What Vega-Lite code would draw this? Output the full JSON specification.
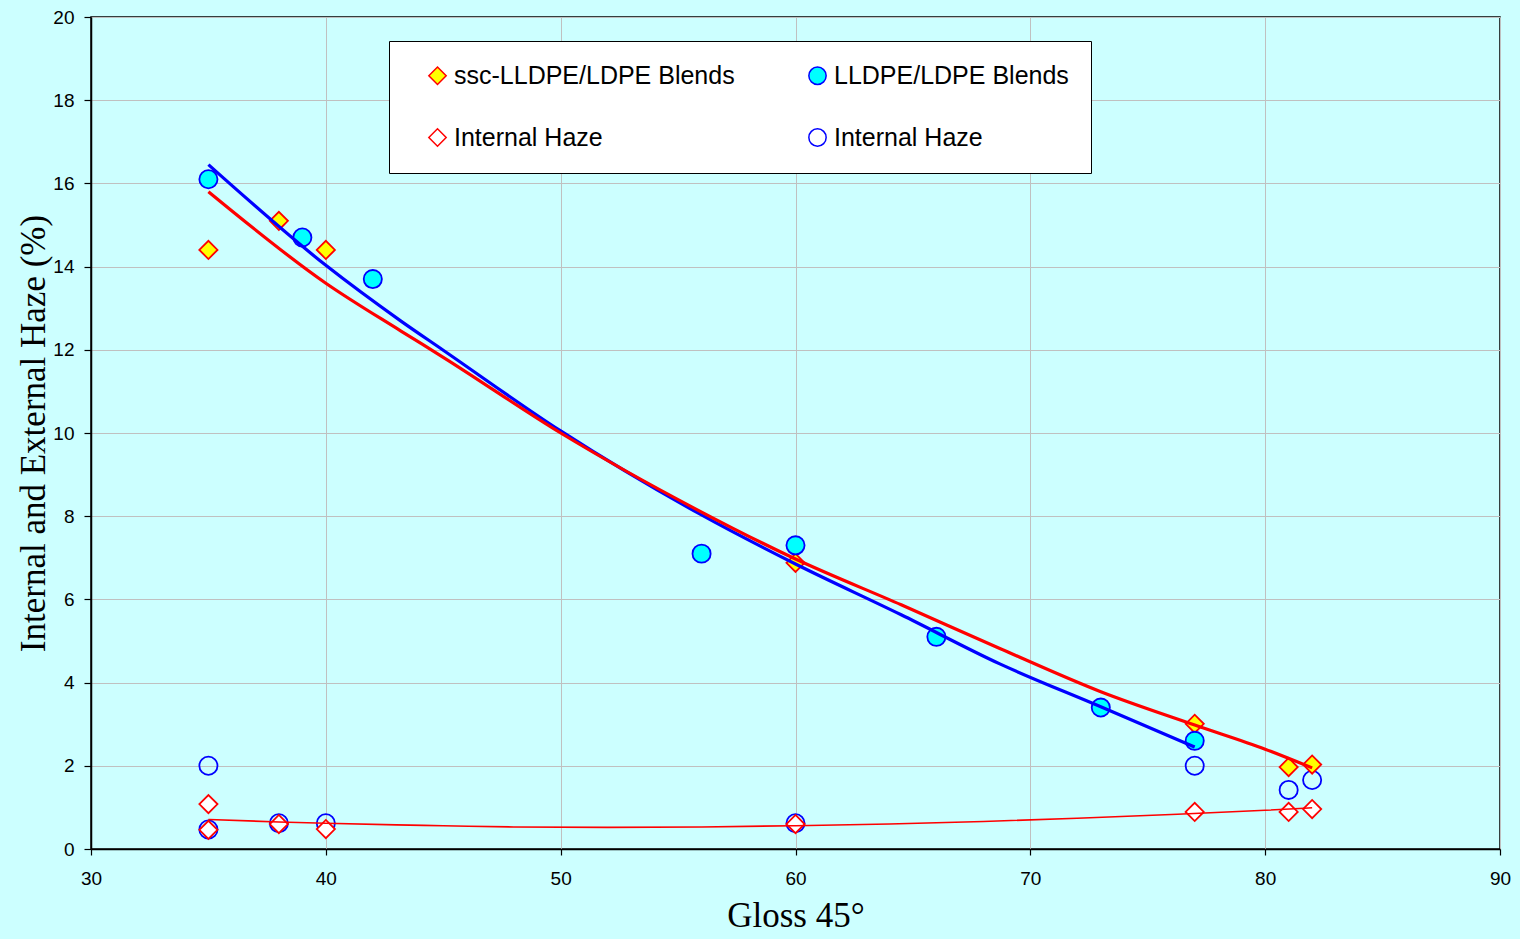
{
  "$schema": "https://vega.github.io/schema/vega-lite/v6.json",
  "width": 1409,
  "height": 832,
  "autosize": {"type": "none"},
  "padding": {"left": 91, "top": 17, "right": 20, "bottom": 90},
  "background": "#CCFFFF",
  "config": {
    "view": {"fill": "#CCFFFF", "stroke": "#000000", "strokeWidth": 1.5},
    "axis": {
      "grid": true,
      "gridColor": "#C0C0C0",
      "gridWidth": 1,
      "domainColor": "#000000",
      "domainWidth": 1.5,
      "tickColor": "#000000",
      "tickWidth": 1.2,
      "labelFlush": false,
      "labelFont": "Liberation Sans",
      "labelFontSize": 19,
      "labelColor": "#000000",
      "titleFont": "Liberation Serif",
      "titleFontWeight": "normal",
      "titleColor": "#000000"
    }
  },
  "datasets": {
    "pts": [
      {"series": "lldpe_ih", "gloss": 35, "haze": 2.0},
      {"series": "lldpe_ih", "gloss": 35, "haze": 0.47},
      {"series": "lldpe_ih", "gloss": 38, "haze": 0.62},
      {"series": "lldpe_ih", "gloss": 40, "haze": 0.62},
      {"series": "lldpe_ih", "gloss": 60, "haze": 0.62},
      {"series": "lldpe_ih", "gloss": 77, "haze": 2.0},
      {"series": "lldpe_ih", "gloss": 81, "haze": 1.42},
      {"series": "lldpe_ih", "gloss": 82, "haze": 1.66},
      {"series": "ssc_ih", "gloss": 35, "haze": 1.08},
      {"series": "ssc_ih", "gloss": 35, "haze": 0.46},
      {"series": "ssc_ih", "gloss": 38, "haze": 0.6},
      {"series": "ssc_ih", "gloss": 40, "haze": 0.48},
      {"series": "ssc_ih", "gloss": 60, "haze": 0.6},
      {"series": "ssc_ih", "gloss": 77, "haze": 0.89},
      {"series": "ssc_ih", "gloss": 81, "haze": 0.89},
      {"series": "ssc_ih", "gloss": 82, "haze": 0.96},
      {"series": "ssc", "gloss": 35, "haze": 14.4},
      {"series": "ssc", "gloss": 38, "haze": 15.1},
      {"series": "ssc", "gloss": 40, "haze": 14.4},
      {"series": "ssc", "gloss": 60, "haze": 6.88},
      {"series": "ssc", "gloss": 77, "haze": 3.01},
      {"series": "ssc", "gloss": 81, "haze": 1.97},
      {"series": "ssc", "gloss": 82, "haze": 2.03},
      {"series": "lldpe", "gloss": 35, "haze": 16.1},
      {"series": "lldpe", "gloss": 39, "haze": 14.7},
      {"series": "lldpe", "gloss": 42, "haze": 13.7},
      {"series": "lldpe", "gloss": 56, "haze": 7.1},
      {"series": "lldpe", "gloss": 60, "haze": 7.3},
      {"series": "lldpe", "gloss": 66, "haze": 5.1},
      {"series": "lldpe", "gloss": 73, "haze": 3.4},
      {"series": "lldpe", "gloss": 77, "haze": 2.6}
    ],
    "fits": [
      {"series": "lldpe_fit", "gloss": 35, "haze": 16.45},
      {"series": "lldpe_fit", "gloss": 40, "haze": 14.03},
      {"series": "lldpe_fit", "gloss": 43.2, "haze": 12.69},
      {"series": "lldpe_fit", "gloss": 45, "haze": 11.99},
      {"series": "lldpe_fit", "gloss": 50, "haze": 10.05},
      {"series": "lldpe_fit", "gloss": 55.9, "haze": 8.06},
      {"series": "lldpe_fit", "gloss": 60, "haze": 6.85},
      {"series": "lldpe_fit", "gloss": 64.5, "haze": 5.63},
      {"series": "lldpe_fit", "gloss": 68.7, "haze": 4.45},
      {"series": "lldpe_fit", "gloss": 73, "haze": 3.42},
      {"series": "lldpe_fit", "gloss": 77, "haze": 2.45},
      {"series": "ssc_fit", "gloss": 35, "haze": 15.8},
      {"series": "ssc_fit", "gloss": 40, "haze": 13.6},
      {"series": "ssc_fit", "gloss": 43.2, "haze": 12.45},
      {"series": "ssc_fit", "gloss": 45, "haze": 11.82},
      {"series": "ssc_fit", "gloss": 50, "haze": 10.0},
      {"series": "ssc_fit", "gloss": 55.9, "haze": 8.13},
      {"series": "ssc_fit", "gloss": 60, "haze": 6.97},
      {"series": "ssc_fit", "gloss": 64.5, "haze": 5.87},
      {"series": "ssc_fit", "gloss": 68.7, "haze": 4.82},
      {"series": "ssc_fit", "gloss": 73, "haze": 3.78},
      {"series": "ssc_fit", "gloss": 77, "haze": 2.98},
      {"series": "ssc_fit", "gloss": 80, "haze": 2.4},
      {"series": "ssc_fit", "gloss": 82, "haze": 1.95},
      {"series": "ih_fit", "gloss": 35, "haze": 0.71},
      {"series": "ih_fit", "gloss": 38, "haze": 0.65},
      {"series": "ih_fit", "gloss": 40, "haze": 0.62},
      {"series": "ih_fit", "gloss": 43, "haze": 0.58},
      {"series": "ih_fit", "gloss": 45, "haze": 0.56},
      {"series": "ih_fit", "gloss": 48, "haze": 0.53},
      {"series": "ih_fit", "gloss": 52, "haze": 0.52},
      {"series": "ih_fit", "gloss": 56, "haze": 0.53},
      {"series": "ih_fit", "gloss": 60, "haze": 0.56},
      {"series": "ih_fit", "gloss": 64, "haze": 0.6},
      {"series": "ih_fit", "gloss": 68, "haze": 0.66},
      {"series": "ih_fit", "gloss": 72, "haze": 0.74},
      {"series": "ih_fit", "gloss": 76, "haze": 0.83},
      {"series": "ih_fit", "gloss": 80, "haze": 0.93},
      {"series": "ih_fit", "gloss": 82, "haze": 0.99}
    ]
  },
  "encoding": {
    "x": {
      "field": "gloss", "type": "quantitative",
      "scale": {"domain": [30, 90], "nice": false, "zero": false},
      "axis": {"values": [30, 40, 50, 60, 70, 80, 90], "title": "Gloss 45°", "titleFontSize": 35, "tickSize": 6, "labelPadding": 14, "titlePadding": 10}
    },
    "y": {
      "field": "haze", "type": "quantitative",
      "scale": {"domain": [0, 20], "nice": false},
      "axis": {"values": [0, 2, 4, 6, 8, 10, 12, 14, 16, 18, 20], "title": "Internal and External Haze (%)", "titleFontSize": 35, "tickSize": 7, "labelPadding": 10, "titlePadding": 1}
    }
  },
  "layer": [
    {
      "data": {"name": "pts"},
      "mark": {"type": "point", "filled": false, "size": 330, "strokeWidth": 1.8, "opacity": 1},
      "encoding": {
        "shape": {
          "field": "series", "type": "nominal",
          "scale": {"domain": ["ssc", "ssc_ih", "lldpe", "lldpe_ih"], "range": ["diamond", "diamond", "circle", "circle"]},
          "legend": {"orient": "none", "legendX": 298, "legendY": 24, "columns": 2, "title": null, "fillColor": "#FFFFFF", "strokeColor": "#000000", "padding": 22, "symbolOffset": 14, "labelFont": "Liberation Sans", "labelFontSize": 25, "labelColor": "#000000", "labelOffset": 4, "labelLimit": 500, "symbolSize": 300, "symbolStrokeWidth": 1.5, "columnPadding": 56, "rowPadding": 36, "labelExpr": "datum.value == 'ssc' ? 'ssc-LLDPE/LDPE Blends' : datum.value == 'lldpe' ? 'LLDPE/LDPE Blends' : 'Internal Haze'"}
        },
        "fill": {
          "field": "series", "type": "nominal",
          "scale": {"domain": ["ssc", "ssc_ih", "lldpe", "lldpe_ih"], "range": ["#FFFF00", "#FFFFFF", "#00FFFF", "transparent"]},
          "legend": {"orient": "none", "legendX": 298, "legendY": 24, "columns": 2, "title": null, "fillColor": "#FFFFFF", "strokeColor": "#000000", "padding": 22, "symbolOffset": 14, "labelFont": "Liberation Sans", "labelFontSize": 25, "labelColor": "#000000", "labelOffset": 4, "labelLimit": 500, "symbolSize": 300, "symbolStrokeWidth": 1.5, "columnPadding": 56, "rowPadding": 36, "labelExpr": "datum.value == 'ssc' ? 'ssc-LLDPE/LDPE Blends' : datum.value == 'lldpe' ? 'LLDPE/LDPE Blends' : 'Internal Haze'"}
        },
        "stroke": {
          "field": "series", "type": "nominal",
          "scale": {"domain": ["ssc", "ssc_ih", "lldpe", "lldpe_ih"], "range": ["#FF0000", "#FF0000", "#0000FF", "#0000FF"]},
          "legend": {"orient": "none", "legendX": 298, "legendY": 24, "columns": 2, "title": null, "fillColor": "#FFFFFF", "strokeColor": "#000000", "padding": 22, "symbolOffset": 14, "labelFont": "Liberation Sans", "labelFontSize": 25, "labelColor": "#000000", "labelOffset": 4, "labelLimit": 500, "symbolSize": 300, "symbolStrokeWidth": 1.5, "columnPadding": 56, "rowPadding": 36, "labelExpr": "datum.value == 'ssc' ? 'ssc-LLDPE/LDPE Blends' : datum.value == 'lldpe' ? 'LLDPE/LDPE Blends' : 'Internal Haze'"}
        }
      }
    },
    {
      "data": {"name": "fits"},
      "transform": [{"filter": "datum.series == 'lldpe_fit'"}],
      "mark": {"type": "line", "color": "#0000FF", "strokeWidth": 3.2, "interpolate": "monotone"},
      "encoding": {"order": {"field": "gloss", "type": "quantitative"}}
    },
    {
      "data": {"name": "fits"},
      "transform": [{"filter": "datum.series == 'ssc_fit'"}],
      "mark": {"type": "line", "color": "#FF0000", "strokeWidth": 3.2, "interpolate": "monotone"},
      "encoding": {"order": {"field": "gloss", "type": "quantitative"}}
    },
    {
      "data": {"name": "fits"},
      "transform": [{"filter": "datum.series == 'ih_fit'"}],
      "mark": {"type": "line", "color": "#FF0000", "strokeWidth": 1.6, "interpolate": "monotone"},
      "encoding": {"order": {"field": "gloss", "type": "quantitative"}}
    }
  ]
}
